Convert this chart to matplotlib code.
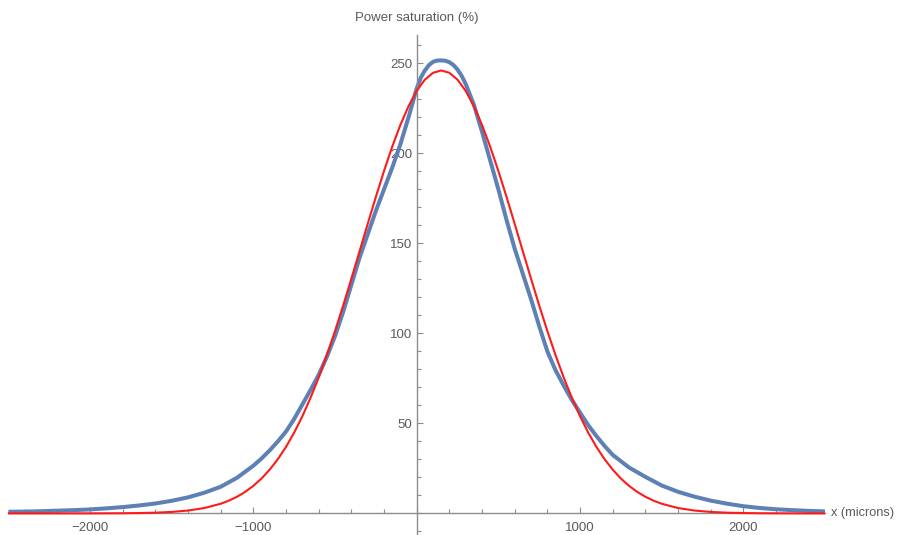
import matplotlib
matplotlib.use("Agg")
import matplotlib.pyplot as plt
from matplotlib.ticker import FixedLocator, MultipleLocator

# Measured data (blue points)
blue_x = [-2500, -2400, -2300, -2200, -2100, -2000, -1900, -1800, -1700, -1600,
          -1500, -1400, -1300, -1200, -1100, -1000, -950, -900, -850, -800,
          -750, -700, -650, -600, -550, -500, -450, -400, -350, -300,
          -250, -200, -150, -100, -50, 0, 25, 50, 75, 100,
          125, 150, 175, 200, 225, 250, 275, 300, 350, 400,
          450, 500, 550, 600, 650, 700, 750, 800, 850, 900,
          950, 1000, 1050, 1100, 1150, 1200, 1300, 1400, 1500, 1600,
          1700, 1800, 1900, 2000, 2100, 2200, 2300, 2400, 2500]
blue_y = [0.9, 1.0, 1.2, 1.5, 1.8, 2.2, 2.8, 3.5, 4.4, 5.5,
          7.0, 8.9, 11.5, 14.8, 19.8, 26.5, 30.5, 35.0, 40.0, 45.5,
          52.5, 60.5, 68.5, 77, 87, 98.5, 112, 127, 142, 155,
          168, 180, 192, 205, 220, 236, 242, 246, 249, 250.8,
          251.5, 251.6, 251.4, 250.6, 249, 246.5, 243, 238.5, 227, 212,
          196, 180, 163, 147, 133, 119, 104, 90, 79.5, 71,
          63, 56, 49, 43, 37.5, 32.5, 25.5, 20.3, 15.5, 12.0,
          9.3, 7.1, 5.4, 4.0, 3.0, 2.3, 1.8, 1.4, 1.1]

# Fitted curve (red)
red_x = ([-2500, -2400, -2300, -2200, -2100, -2000, -1900, -1800, -1700, -1600,
          -1500, -1400, -1300]
         + list(range(-1200, 1501, 50))
         + [1600, 1700, 1800, 1900, 2000, 2100, 2200, 2300, 2400, 2500])
red_y = ([0.0, 0.0, 0.0, 0.001, 0.005, 0.015, 0.036, 0.084, 0.19, 0.40,
          0.81, 1.59, 2.98]
         + [5.36, 7.08, 9.25, 11.97, 15.31, 19.39, 24.31, 30.14, 36.98, 44.91,
            53.97, 64.18, 75.51, 87.93, 101.31, 115.53, 130.36, 145.54, 160.80, 175.80,
            190.21, 203.64, 215.75, 226.18, 234.65, 240.89, 244.71, 246.0, 244.71, 240.89,
            234.65, 226.18, 215.75, 203.64, 190.21, 175.80, 160.80, 145.54, 130.36, 115.53,
            101.31, 87.93, 75.51, 64.18, 53.97, 44.91, 36.98, 30.14, 24.31, 19.39,
            15.31, 11.97, 9.25, 7.08, 5.36]
         + [2.98, 1.59, 0.81, 0.40, 0.19, 0.084, 0.036, 0.015, 0.006, 0.002])

y_major = [50, 100, 150, 200, 250]
x_major = [-2000, -1000, 1000, 2000]

W, H = 899, 535
FONT = ["Liberation Sans", "DejaVu Sans"]
FS = 9.5
fig = plt.figure(figsize=(W / 100, H / 100), dpi=100)
left_px, right_px, top_px = 8.4, 825.0, 35.0
ax = fig.add_axes([left_px / W, 0.0, (right_px - left_px) / W, (H - top_px) / H])

ax.plot(blue_x, blue_y, color="#5E81B5", lw=2.9, solid_capstyle="butt",
        solid_joinstyle="round", zorder=2)
ax.plot(red_x, red_y, color="#FF1A1A", lw=1.5, solid_joinstyle="round", zorder=3)

ax.set_xlim(-2500, 2500)
ax.set_ylim(-12, 265.7)

axis_col = "#8C8C8C"
text_col = "#5A5A5A"
for s in ["top", "right"]:
    ax.spines[s].set_visible(False)
ax.spines["left"].set_position(("data", 0))
ax.spines["bottom"].set_position(("data", 0))
for s in ["left", "bottom"]:
    ax.spines[s].set_color(axis_col)
    ax.spines[s].set_linewidth(1.0)

ax.xaxis.set_major_locator(FixedLocator(x_major))
ax.xaxis.set_minor_locator(MultipleLocator(200))
ax.yaxis.set_major_locator(FixedLocator(y_major))
ax.yaxis.set_minor_locator(MultipleLocator(10))
ax.set_xticklabels([f"{v:d}".replace("-", "\u2212") for v in x_major])
ax.set_yticklabels([str(v) for v in y_major])

ax.tick_params(axis="both", which="major", direction="in", length=4.5, width=0.8,
               color=axis_col, labelcolor=text_col, labelsize=FS)
ax.tick_params(axis="both", which="minor", direction="in", length=2.8, width=0.8,
               color=axis_col)
ax.tick_params(axis="x", which="major", pad=6)
ax.tick_params(axis="y", which="major", pad=3)

for lab in ax.get_xticklabels() + ax.get_yticklabels():
    lab.set_family(FONT)

fig.text(417 / W, 1 - 18 / H, "Power saturation (%)", ha="center", va="center",
         fontsize=FS, color=text_col, family=FONT)
fig.text(831 / W, 1 - 513 / H, "x (microns)", ha="left", va="center",
         fontsize=9.2, color=text_col, family=FONT)

fig.savefig("out.png", dpi=100)
